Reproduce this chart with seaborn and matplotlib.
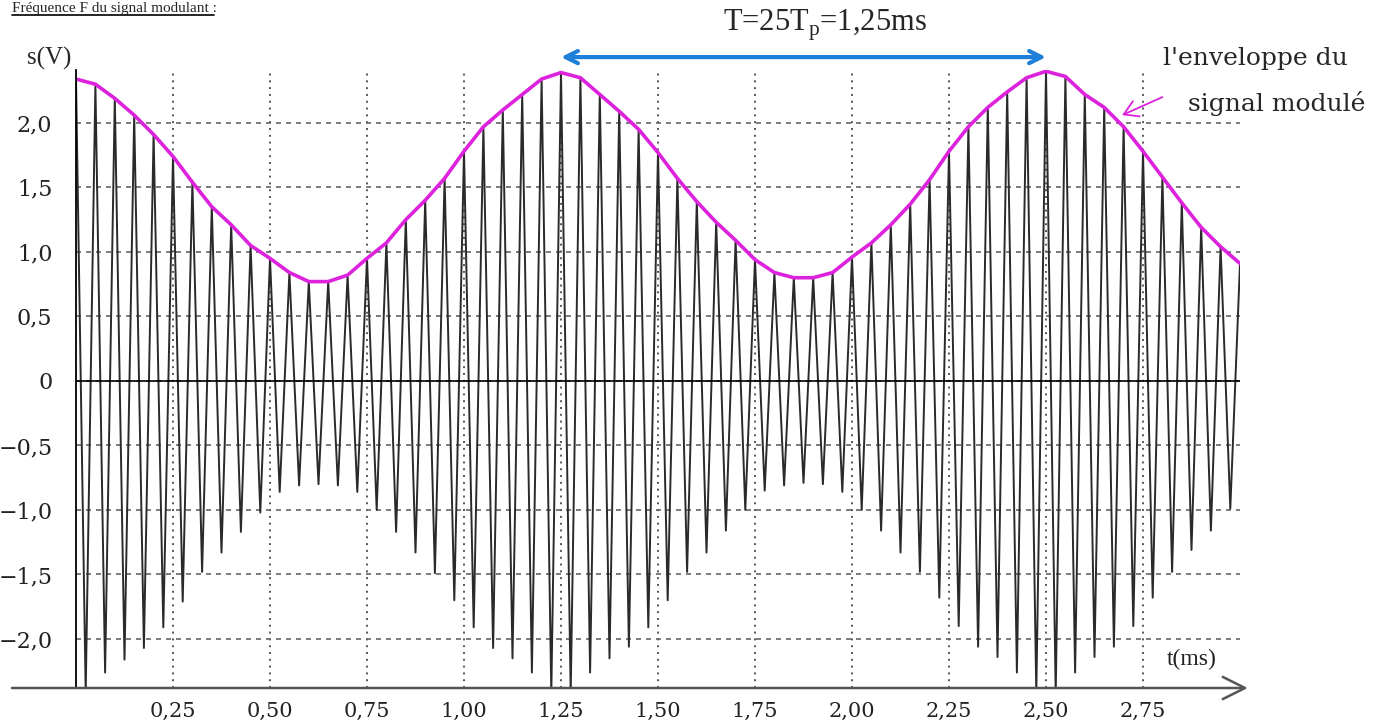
import numpy as np
import pandas as pd
import seaborn as sns
import matplotlib.pyplot as plt
from matplotlib.lines import Line2D

# carrier period in ms (T = 25 Tp = 1.25 ms)
Tp = 0.05

# positive peaks of s(t) at t = k*Tp, k = 0..60 (V)
upper_peaks = [2.34, 2.30, 2.19, 2.06, 1.91, 1.74, 1.54, 1.35, 1.21, 1.05,
               0.95, 0.84, 0.77, 0.77, 0.82, 0.95, 1.07, 1.25, 1.40, 1.57,
               1.78, 1.97, 2.10, 2.22, 2.34, 2.39, 2.35, 2.22, 2.09, 1.95,
               1.77, 1.57, 1.39, 1.23, 1.09, 0.94, 0.84, 0.80, 0.80, 0.84,
               0.96, 1.07, 1.21, 1.37, 1.56, 1.78, 1.97, 2.12, 2.24, 2.35,
               2.40, 2.36, 2.22, 2.12, 1.97, 1.78, 1.58, 1.38, 1.19, 1.04,
               0.91]

# negative peaks of s(t) at t = (k+0.5)*Tp, k = 0..59 (V)
lower_peaks = [-2.42, -2.26, -2.16, -2.07, -1.91, -1.71, -1.48, -1.33, -1.17, -1.02,
               -0.86, -0.81, -0.80, -0.81, -0.86, -1.00, -1.17, -1.33, -1.49, -1.70,
               -1.91, -2.07, -2.15, -2.26, -2.42, -2.42, -2.26, -2.15, -2.06, -1.91,
               -1.70, -1.48, -1.33, -1.16, -1.00, -0.85, -0.81, -0.79, -0.80, -0.86,
               -1.00, -1.16, -1.33, -1.48, -1.68, -1.90, -2.06, -2.14, -2.26, -2.42,
               -2.42, -2.26, -2.14, -2.06, -1.90, -1.68, -1.48, -1.31, -1.16, -0.99]

x_ticks = [0.25, 0.50, 0.75, 1.00, 1.25, 1.50, 1.75, 2.00, 2.25, 2.50, 2.75]
x_labels = ["0,25", "0,50", "0,75", "1,00", "1,25", "1,50", "1,75", "2,00", "2,25", "2,50", "2,75"]
y_ticks = [-2.0, -1.5, -1.0, -0.5, 0.0, 0.5, 1.0, 1.5, 2.0]
y_labels = ["\u22122,0", "\u22121,5", "\u22121,0", "\u22120,5", "0", "0,5", "1,0", "1,5", "2,0"]

# modulating period shown by the blue arrow (ms)
T_start, T_end = 1.25, 2.50

peak_t = np.arange(len(upper_peaks)) * Tp
trough_t = np.arange(len(lower_peaks)) * Tp + Tp / 2

sig = pd.DataFrame({"t": np.concatenate([peak_t, trough_t]),
                    "s": np.concatenate([upper_peaks, lower_peaks])}).sort_values("t")
env = pd.DataFrame({"t": peak_t, "s": upper_peaks})

sns.set_style("white")
plt.rcParams["font.family"] = ["DejaVu Serif"]

W, H = 1377, 725
fig = plt.figure(figsize=(W / 100, H / 100), dpi=100)
ax = fig.add_axes([76 / W, 1 - 688 / H, 1164 / W, 618 / H])

sns.lineplot(data=sig, x="t", y="s", sort=False, estimator=None,
             color="#2a2a2a", lw=1.4, ax=ax)
sns.lineplot(data=env, x="t", y="s", sort=False, estimator=None,
             color="#dd22dd", lw=2.6, ax=ax)

ax.set_xlim(0, 3.0)
ax.set_ylim(-2.38, 2.41)
ax.set_xlabel("")
ax.set_ylabel("")

ax.set_xticks(x_ticks)
ax.set_xticklabels(x_labels, fontsize=15, color="#222222")
ax.set_yticks(y_ticks)
ax.set_yticklabels(y_labels, fontsize=16, color="#222222")
ax.tick_params(axis="x", length=0, pad=10)
ax.tick_params(axis="y", length=0, pad=17)

ax.grid(axis="x", linestyle=(0, (1, 2.5)), color="#555555", lw=1.4)
ax.grid(axis="y", linestyle=(0, (3, 3)), color="#666666", lw=1.2)
ax.axhline(0, color="black", lw=1.2)

for s in ["top", "right", "bottom"]:
    ax.spines[s].set_visible(False)
ax.spines["left"].set_color("black")
ax.spines["left"].set_linewidth(1.3)

# time axis with open arrow
ax.annotate("", xy=(3.02, -2.38), xytext=(-0.165, -2.38),
            arrowprops=dict(arrowstyle="->, head_length=0.8, head_width=0.4",
                            color="#555555", lw=1.8, shrinkA=0, shrinkB=0,
                            mutation_scale=20),
            annotation_clip=False)
ax.text(2.876, -2.16, "t(ms)", ha="center", va="center", fontsize=17,
        family="Liberation Serif", color="#222222")

# period arrow
ax.annotate("", xy=(T_end, 2.51), xytext=(T_start, 2.51),
            arrowprops=dict(arrowstyle="<->", color="#1e7fd8", lw=3,
                            shrinkA=0, shrinkB=0, mutation_scale=22),
            annotation_clip=False)
fig.text(825 / W, 1 - 25 / H, r"T=25T$_\mathregular{p}$=1,25ms", ha="center",
         va="center", fontsize=22, family="Liberation Serif")

# envelope label
fig.text(1163 / W, 1 - 58 / H, "l'enveloppe du", ha="left", va="center", fontsize=18)
fig.text(1188 / W, 1 - 104 / H, "signal modulé", ha="left", va="center", fontsize=18)
ax.annotate("", xy=(2.696, 2.06), xytext=(2.80, 2.20),
            arrowprops=dict(arrowstyle="->, head_length=0.5, head_width=0.3",
                            color="#dd22dd", lw=1.3, shrinkA=0, shrinkB=0,
                            mutation_scale=20),
            annotation_clip=False)

fig.text(27 / W, 1 - 58 / H, "s(V)", ha="left", va="center", fontsize=18,
         family="Liberation Serif")

# heading of the page (cut at the top in the scan)
fig.text(12 / W, 1 - 12 / H, "Fréquence F du signal modulant :", ha="left",
         va="baseline", fontsize=11, family="Liberation Serif")
fig.add_artist(Line2D([12 / W, 214 / W], [1 - 15 / H, 1 - 15 / H],
                      transform=fig.transFigure, color="black", lw=1.2))

fig.savefig("out.png", dpi=100)
